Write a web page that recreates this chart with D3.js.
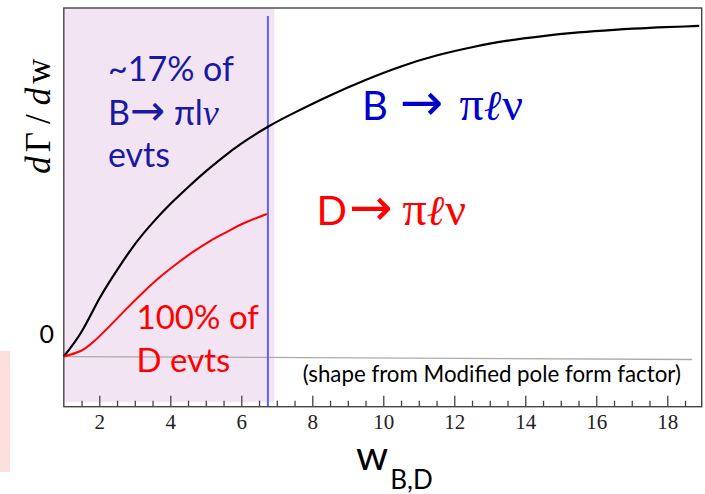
<!DOCTYPE html>
<html>
<head>
<meta charset="utf-8">
<script src="https://cdn.jsdelivr.net/npm/d3@7"></script>
<style>
  body { margin: 0; background: #fff; }
  svg { display: block; }
</style>
</head>
<body>
<svg id="chart"></svg>
<script>
// B -> pi l nu curve
const wB = [1.0, 1.5, 2.0, 2.5, 3.0, 3.5, 4.0, 4.5, 5.0, 5.5, 6.0, 6.75,
  7.5, 8.5, 9.5, 10.5, 11.5, 12.5, 13.5, 14.5, 15.5, 16.5, 17.5, 18.5, 18.9];
const rateB = [0, 0.075, 0.175, 0.262, 0.34, 0.405, 0.462, 0.513, 0.561, 0.605, 0.645, 0.696,
  0.739, 0.791, 0.838, 0.879, 0.912, 0.937, 0.957, 0.971, 0.982, 0.99, 0.996, 1.0, 1.002];

// D -> pi l nu curve
const wD = [1.0, 1.46, 1.82, 2.3, 2.77, 3.24, 3.71, 4.19, 4.64, 5.12, 5.6, 6.05, 6.72];
const rateD = [0, 0.016, 0.043, 0.093, 0.145, 0.195, 0.241, 0.282, 0.317, 0.35, 0.378, 0.403, 0.432];

// zero line of the form factor plot
const baselineW = [1, 18.7];
const baselineRate = [0, -0.009];

const cutW = 6.75;          // kinematic end of D decays
const shadeW = [1, 6.93];
const xTicks = [2, 4, 6, 8, 10, 12, 14, 16, 18];
const xMinorTicks = d3.range(1.5, 19, 0.5).filter(v => v % 2 !== 0);

const W = 705, H = 494;
const margin = {top: 8, right: 3.3, bottom: 87.3, left: 63.8};
const width = W - margin.left - margin.right;
const height = H - margin.top - margin.bottom;

const sans = "Lato, 'Open Sans', 'DejaVu Sans', sans-serif";
const serif = "'Liberation Serif', 'DejaVu Serif', serif";
const arrowFont = "'DejaVu Sans', sans-serif";

const svg = d3.select('#chart')
  .attr('width', W)
  .attr('height', H);

// stray pink box at the left edge of the slide
svg.append('rect')
  .attr('x', 0).attr('y', 351)
  .attr('width', 10).attr('height', 121)
  .attr('fill', '#fddede');

const chart = svg.append('g')
  .attr('transform', `translate(${margin.left}, ${margin.top})`);

const x = d3.scaleLinear()
  .domain([1, 18.97])
  .range([0, width]);

const y = d3.scaleLinear()
  .domain([-0.152, 1.056])
  .range([height, 0]);

// shaded D region
chart.append('rect')
  .attr('x', x(shadeW[0]))
  .attr('y', 0)
  .attr('width', x(shadeW[1]) - x(shadeW[0]))
  .attr('height', y(-0.138))
  .attr('fill', '#f3e4f4');

// zero line
chart.append('line')
  .attr('x1', x(baselineW[0])).attr('y1', y(baselineRate[0]))
  .attr('x2', x(baselineW[1])).attr('y2', y(baselineRate[1]))
  .attr('stroke', '#aaa')
  .attr('stroke-width', 1.3);

// cut line
chart.append('line')
  .attr('x1', x(cutW)).attr('y1', y(1.032))
  .attr('x2', x(cutW)).attr('y2', height)
  .attr('stroke', '#5f5fff')
  .attr('stroke-width', 2);

// axis ticks
const xAxis = d3.axisBottom(x)
  .tickValues(xTicks)
  .tickSize(-11)
  .tickPadding(7)
  .tickFormat(d3.format('d'));

const xMinor = d3.axisBottom(x)
  .tickValues(xMinorTicks)
  .tickSize(-6)
  .tickFormat('');

const gx = chart.append('g')
  .attr('transform', `translate(0, ${height})`)
  .call(xAxis);
gx.select('.domain').remove();
gx.selectAll('line').attr('stroke', '#444').attr('stroke-width', 1.3);
gx.selectAll('text')
  .attr('font-family', serif)
  .attr('font-size', 21)
  .attr('fill', '#222');

const gm = chart.append('g')
  .attr('transform', `translate(0, ${height})`)
  .call(xMinor);
gm.select('.domain').remove();
gm.selectAll('line').attr('stroke', '#444').attr('stroke-width', 1.3);

// frame
chart.append('rect')
  .attr('x', 0).attr('y', 0)
  .attr('width', width).attr('height', height)
  .attr('fill', 'none')
  .attr('stroke', '#444')
  .attr('stroke-width', 1.4);

// curves
const line = d3.line()
  .x(d => x(d[0]))
  .y(d => y(d[1]))
  .curve(d3.curveNatural);

chart.append('path')
  .datum(d3.zip(wB, rateB))
  .attr('d', line)
  .attr('fill', 'none')
  .attr('stroke', '#000')
  .attr('stroke-width', 2.2);

chart.append('path')
  .datum(d3.zip(wD, rateD))
  .attr('d', line)
  .attr('fill', 'none')
  .attr('stroke', '#ff0000')
  .attr('stroke-width', 2);

// "0" label on the y axis
chart.append('text')
  .attr('x', -17)
  .attr('y', y(0) - 13.5)
  .attr('text-anchor', 'middle')
  .attr('font-family', sans)
  .attr('font-size', 25)
  .attr('fill', '#000')
  .text('0');

// annotations
const navy = '#1a1aa0';
const g17 = chart.append('text')
  .attr('x', x(2.245))
  .attr('y', y(0.835))
  .attr('font-family', sans)
  .attr('font-size', 34)
  .attr('fill', navy);
g17.append('tspan').text('~17% of');
g17.append('tspan').attr('x', x(2.245)).attr('dy', 44).text('B');
g17.append('tspan').attr('font-family', arrowFont).attr('font-size', 42).text('\u2192');
g17.append('tspan').text(' \u03c0l');
g17.append('tspan').attr('font-family', serif).attr('font-style', 'italic').attr('font-size', 36).text('\u03bd');
g17.append('tspan').attr('x', x(2.245)).attr('dy', 42).text('evts');

function decayLabel(w, rate, parent, gap, piGap, color) {
  const t = chart.append('text')
    .attr('x', x(w))
    .attr('y', y(rate))
    .attr('font-family', sans)
    .attr('font-size', 40)
    .attr('fill', color);
  t.append('tspan').text(parent);
  t.append('tspan').attr('dx', gap).attr('font-family', arrowFont).attr('font-size', 52).text('\u2192');
  t.append('tspan').attr('dx', piGap).attr('font-family', serif).attr('font-size', 48).text('\u03c0');
  t.append('tspan').attr('font-family', serif).attr('font-style', 'italic').attr('font-size', 42).text('\u2113');
  t.append('tspan').attr('dx', 1).attr('font-family', serif).attr('font-size', 46).text('\u03bd');
  return t;
}

decayLabel(9.4, 0.717, 'B', 12, 16, '#0000cc');
decayLabel(8.12, 0.398, 'D', 2, 10, '#ff0000');

const d100 = chart.append('text')
  .attr('x', x(3.05))
  .attr('y', y(0.083))
  .attr('font-family', sans)
  .attr('font-size', 33)
  .attr('fill', '#ff0000');
d100.append('tspan').text('100% of');
d100.append('tspan').attr('x', x(3.05)).attr('dy', 43).text('D evts');

chart.append('text')
  .attr('x', x(7.73))
  .attr('y', y(-0.076))
  .attr('font-family', sans)
  .attr('font-size', 22.3)
  .attr('fill', '#000')
  .text('(shape from Modified pole form factor)');

// y axis title
const yTitle = svg.append('text')
  .attr('transform', 'translate(50, 116) rotate(-90)')
  .attr('text-anchor', 'middle')
  .attr('font-family', serif)
  .attr('font-size', 35)
  .attr('fill', '#000');
yTitle.append('tspan').attr('font-style', 'italic').text('d');
yTitle.append('tspan').attr('dx', 4).text('\u0393');
yTitle.append('tspan').attr('dx', 8).text('/');
yTitle.append('tspan').attr('dx', 9).attr('font-style', 'italic').text('d');
yTitle.append('tspan').attr('dx', 4).text('w');

// x axis title
const xTitle = svg.append('text')
  .attr('x', 356)
  .attr('y', 470)
  .attr('font-family', sans)
  .attr('fill', '#000');
xTitle.append('tspan').attr('font-size', 41).text('w');
xTitle.append('tspan').attr('font-size', 26).attr('dy', 19).attr('dx', 2).text('B,D');
</script>
</body>
</html>
